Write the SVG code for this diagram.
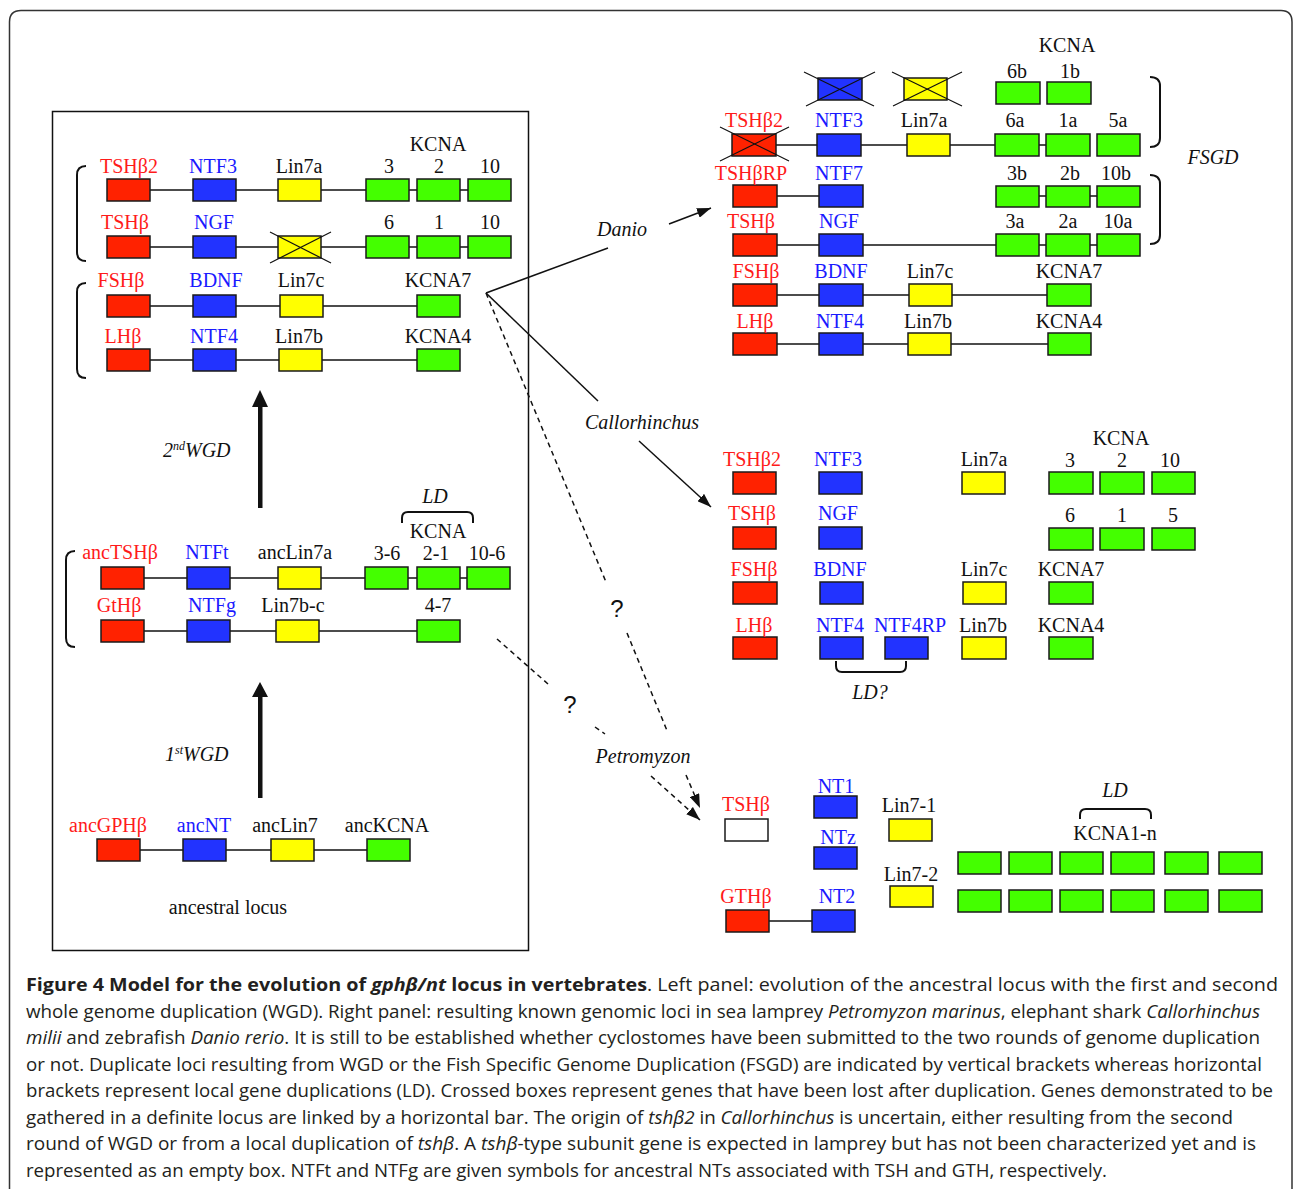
<svg xmlns="http://www.w3.org/2000/svg" width="1293" height="1189" viewBox="0 0 1293 1189">
<style>
.r{fill:#ff2200;stroke:#1a1a1a;stroke-width:1.5}
.b{fill:#2233ff;stroke:#1a1a1a;stroke-width:1.5}
.y{fill:#ffff00;stroke:#1a1a1a;stroke-width:1.5}
.g{fill:#44ff00;stroke:#1a1a1a;stroke-width:1.5}
.e{fill:#ffffff;stroke:#1a1a1a;stroke-width:1.5}
.t{font-family:"Liberation Serif","Times New Roman",serif;font-size:20px;text-anchor:middle;fill:#111}
.tr{fill:#ff1a1a}
.tb{fill:#1a1aff}
.it{font-style:italic}
.ln{stroke:#111;stroke-width:1.5;fill:none}
.x{stroke:#111;stroke-width:1.2;fill:none}
.br{stroke:#111;stroke-width:2;fill:none}
.cn{stroke:#111;stroke-width:1.5;fill:none}
.dash{stroke-dasharray:5,4}
.q{font-family:"Liberation Sans",Arial,sans-serif;font-size:24px;text-anchor:middle;fill:#111}
.cap{font-family:"Open Sans","Noto Sans",sans-serif;font-size:18px;fill:#231f20}
</style>
<defs>
<marker id="ah" markerUnits="userSpaceOnUse" markerWidth="14" markerHeight="10" refX="14" refY="5" orient="auto">
<path d="M0,0 L14,5 L0,10 z" fill="#111"/>
</marker>
</defs>
<rect width="1293" height="1189" fill="#fff"/>
<path d="M9.5,1189 L9.5,22 Q9.5,10.5 21,10.5 L1281,10.5 Q1292,10.5 1292,22 L1292,1189" fill="none" stroke="#333" stroke-width="1.5"/>
<rect x="52.5" y="111.5" width="476" height="839" fill="none" stroke="#111" stroke-width="1.5"/>

<!-- backbone lines (horizontal bars) -->
<g id="bars">
<line class="ln" x1="128" y1="190" x2="490" y2="190"/>
<line class="ln" x1="128" y1="247" x2="490" y2="247"/>
<line class="ln" x1="128" y1="306" x2="438" y2="306"/>
<line class="ln" x1="128" y1="360" x2="438" y2="360"/>
<line class="ln" x1="122" y1="578" x2="488" y2="578"/>
<line class="ln" x1="122" y1="631" x2="438" y2="631"/>
<line class="ln" x1="118" y1="850" x2="388" y2="850"/>
<line class="ln" x1="754" y1="145" x2="1068" y2="145"/>
<line class="ln" x1="754" y1="196" x2="840" y2="196"/>
<line class="ln" x1="1017" y1="196" x2="1118" y2="196"/>
<line class="ln" x1="754" y1="245" x2="1118" y2="245"/>
<line class="ln" x1="754" y1="295" x2="1068" y2="295"/>
<line class="ln" x1="754" y1="344" x2="1069" y2="344"/>
<line class="ln" x1="747" y1="921" x2="833" y2="921"/>
</g>

<!-- LEFT PANEL -->
<g id="left-2ndwgd-loci">
<text class="t" x="438" y="151">KCNA</text>
<g id="L1-tshb2"><rect class="r" x="107" y="179" width="43" height="22"/><text class="t tr" x="129" y="173">TSHβ2</text></g>
<g id="L1-ntf3"><rect class="b" x="193" y="179" width="43" height="22"/><text class="t tb" x="213" y="173">NTF3</text></g>
<g id="L1-lin7a"><rect class="y" x="278" y="179" width="43" height="22"/><text class="t" x="299" y="173">Lin7a</text></g>
<g id="L1-k3"><rect class="g" x="366" y="179" width="43" height="22"/><text class="t" x="389" y="173">3</text></g>
<g id="L1-k2"><rect class="g" x="417" y="179" width="43" height="22"/><text class="t" x="439" y="173">2</text></g>
<g id="L1-k10"><rect class="g" x="468" y="179" width="43" height="22"/><text class="t" x="490" y="173">10</text></g>

<g id="L2-tshb"><rect class="r" x="107" y="236" width="43" height="22"/><text class="t tr" x="125" y="229">TSHβ</text></g>
<g id="L2-ngf"><rect class="b" x="193" y="236" width="43" height="22"/><text class="t tb" x="214" y="229">NGF</text></g>
<g id="L2-lost"><rect class="y" x="278" y="236" width="43" height="22"/><line class="x" x1="270" y1="232" x2="331" y2="263"/><line class="x" x1="331" y1="232" x2="270" y2="263"/></g>
<g id="L2-k6"><rect class="g" x="366" y="236" width="43" height="22"/><text class="t" x="389" y="229">6</text></g>
<g id="L2-k1"><rect class="g" x="417" y="236" width="43" height="22"/><text class="t" x="439" y="229">1</text></g>
<g id="L2-k10"><rect class="g" x="468" y="236" width="43" height="22"/><text class="t" x="490" y="229">10</text></g>

<g id="L3-fshb"><rect class="r" x="107" y="295" width="43" height="22"/><text class="t tr" x="121" y="287">FSHβ</text></g>
<g id="L3-bdnf"><rect class="b" x="193" y="295" width="43" height="22"/><text class="t tb" x="216" y="287">BDNF</text></g>
<g id="L3-lin7c"><rect class="y" x="280" y="295" width="43" height="22"/><text class="t" x="301" y="287">Lin7c</text></g>
<g id="L3-kcna7"><rect class="g" x="417" y="295" width="43" height="22"/><text class="t" x="438" y="287">KCNA7</text></g>

<g id="L4-lhb"><rect class="r" x="107" y="349" width="43" height="22"/><text class="t tr" x="123" y="343">LHβ</text></g>
<g id="L4-ntf4"><rect class="b" x="193" y="349" width="43" height="22"/><text class="t tb" x="214" y="343">NTF4</text></g>
<g id="L4-lin7b"><rect class="y" x="279" y="349" width="43" height="22"/><text class="t" x="299" y="343">Lin7b</text></g>
<g id="L4-kcna4"><rect class="g" x="417" y="349" width="43" height="22"/><text class="t" x="438" y="343">KCNA4</text></g>

<path class="br" d="M86,166 Q77,166 77,175 L77,252 Q77,261 86,261"/>
<path class="br" d="M86,283 Q77,283 77,292 L77,369 Q77,378 86,378"/>
</g>

<g id="left-1stwgd-loci">
<text class="t it" x="435" y="503">LD</text>
<path class="br" d="M402,523 L402,518 Q402,512 408,512 L467,512 Q473,512 473,518 L473,523"/>
<text class="t" x="438" y="538">KCNA</text>
<g id="A-anctshb"><rect class="r" x="101" y="567" width="43" height="22"/><text class="t tr" x="120" y="559">ancTSHβ</text></g>
<g id="A-ntft"><rect class="b" x="187" y="567" width="43" height="22"/><text class="t tb" x="207" y="559">NTFt</text></g>
<g id="A-anclin7a"><rect class="y" x="278" y="567" width="43" height="22"/><text class="t" x="295" y="559">ancLin7a</text></g>
<g id="A-k36"><rect class="g" x="365" y="567" width="43" height="22"/><text class="t" x="387" y="560">3-6</text></g>
<g id="A-k21"><rect class="g" x="417" y="567" width="43" height="22"/><text class="t" x="436" y="560">2-1</text></g>
<g id="A-k106"><rect class="g" x="467" y="567" width="43" height="22"/><text class="t" x="487" y="560">10-6</text></g>
<g id="B-gthb"><rect class="r" x="101" y="620" width="43" height="22"/><text class="t tr" x="119" y="612">GtHβ</text></g>
<g id="B-ntfg"><rect class="b" x="187" y="620" width="43" height="22"/><text class="t tb" x="212" y="612">NTFg</text></g>
<g id="B-lin7bc"><rect class="y" x="276" y="620" width="43" height="22"/><text class="t" x="293" y="612">Lin7b-c</text></g>
<g id="B-k47"><rect class="g" x="417" y="620" width="43" height="22"/><text class="t" x="438" y="612">4-7</text></g>
<path class="br" d="M75,551 Q66,551 66,560 L66,638 Q66,647 75,647"/>
</g>

<g id="ancestral-locus">
<g id="anc-gphb"><rect class="r" x="97" y="839" width="43" height="22"/><text class="t tr" x="108" y="832">ancGPHβ</text></g>
<g id="anc-nt"><rect class="b" x="183" y="839" width="43" height="22"/><text class="t tb" x="204" y="832">ancNT</text></g>
<g id="anc-lin7"><rect class="y" x="271" y="839" width="43" height="22"/><text class="t" x="285" y="832">ancLin7</text></g>
<g id="anc-kcna"><rect class="g" x="367" y="839" width="43" height="22"/><text class="t" x="387" y="832">ancKCNA</text></g>
<text class="t" x="228" y="914">ancestral locus</text>
</g>

<g id="wgd-arrows">
<rect x="258" y="405" width="4.5" height="103" fill="#111"/>
<polygon points="252,407 260,390 268,407" fill="#111"/>
<text class="t it" x="163" y="457" style="text-anchor:start">2<tspan font-size="12" baseline-shift="super">nd</tspan>WGD</text>
<rect x="258" y="695" width="4.5" height="103" fill="#111"/>
<polygon points="252,697 260,682 268,697" fill="#111"/>
<text class="t it" x="165" y="761" style="text-anchor:start">1<tspan font-size="12" baseline-shift="super">st</tspan>WGD</text>
</g>

<!-- DANIO -->
<g id="danio">
<text class="t" x="1067" y="52">KCNA</text>
<g id="D0-ntf-lost"><rect class="b" x="818" y="78" width="44" height="22"/><line class="x" x1="804" y1="72" x2="874" y2="106"/><line class="x" x1="875" y1="72" x2="806" y2="106"/></g>
<g id="D0-lin7-lost"><rect class="y" x="904" y="78" width="43" height="22"/><line class="x" x1="892" y1="72" x2="962" y2="106"/><line class="x" x1="962" y1="72" x2="893" y2="106"/></g>
<g id="D0-k6b"><rect class="g" x="996" y="82" width="44" height="22"/><text class="t" x="1017" y="78">6b</text></g>
<g id="D0-k1b"><rect class="g" x="1047" y="82" width="44" height="22"/><text class="t" x="1070" y="78">1b</text></g>

<g id="D1-tshb2"><rect class="r" x="732" y="134" width="44" height="22"/><line class="x" x1="720" y1="127" x2="789" y2="161"/><line class="x" x1="789" y1="127" x2="720" y2="161"/><text class="t tr" x="754" y="127">TSHβ2</text></g>
<g id="D1-ntf3"><rect class="b" x="817" y="134" width="44" height="22"/><text class="t tb" x="839" y="127">NTF3</text></g>
<g id="D1-lin7a"><rect class="y" x="907" y="134" width="43" height="22"/><text class="t" x="924" y="127">Lin7a</text></g>
<g id="D1-k6a"><rect class="g" x="995" y="134" width="44" height="22"/><text class="t" x="1015" y="127">6a</text></g>
<g id="D1-k1a"><rect class="g" x="1046" y="134" width="44" height="22"/><text class="t" x="1068" y="127">1a</text></g>
<g id="D1-k5a"><rect class="g" x="1097" y="134" width="43" height="22"/><text class="t" x="1118" y="127">5a</text></g>

<g id="D2-tshbrp"><rect class="r" x="733" y="185" width="44" height="22"/><text class="t tr" x="751" y="180">TSHβRP</text></g>
<g id="D2-ntf7"><rect class="b" x="819" y="185" width="44" height="22"/><text class="t tb" x="839" y="180">NTF7</text></g>
<g id="D2-k3b"><rect class="g" x="996" y="186" width="43" height="21"/><text class="t" x="1017" y="180">3b</text></g>
<g id="D2-k2b"><rect class="g" x="1046" y="186" width="44" height="21"/><text class="t" x="1070" y="180">2b</text></g>
<g id="D2-k10b"><rect class="g" x="1097" y="186" width="43" height="21"/><text class="t" x="1116" y="180">10b</text></g>

<g id="D3-tshb"><rect class="r" x="733" y="234" width="44" height="22"/><text class="t tr" x="751" y="228">TSHβ</text></g>
<g id="D3-ngf"><rect class="b" x="819" y="234" width="44" height="22"/><text class="t tb" x="839" y="228">NGF</text></g>
<g id="D3-k3a"><rect class="g" x="996" y="234" width="43" height="22"/><text class="t" x="1015" y="228">3a</text></g>
<g id="D3-k2a"><rect class="g" x="1046" y="234" width="44" height="22"/><text class="t" x="1068" y="228">2a</text></g>
<g id="D3-k10a"><rect class="g" x="1097" y="234" width="43" height="22"/><text class="t" x="1118" y="228">10a</text></g>

<g id="D4-fshb"><rect class="r" x="733" y="284" width="44" height="22"/><text class="t tr" x="756" y="278">FSHβ</text></g>
<g id="D4-bdnf"><rect class="b" x="819" y="284" width="44" height="22"/><text class="t tb" x="841" y="278">BDNF</text></g>
<g id="D4-lin7c"><rect class="y" x="909" y="284" width="43" height="22"/><text class="t" x="930" y="278">Lin7c</text></g>
<g id="D4-kcna7"><rect class="g" x="1047" y="284" width="44" height="22"/><text class="t" x="1069" y="278">KCNA7</text></g>

<g id="D5-lhb"><rect class="r" x="733" y="333" width="44" height="22"/><text class="t tr" x="755" y="328">LHβ</text></g>
<g id="D5-ntf4"><rect class="b" x="819" y="333" width="44" height="22"/><text class="t tb" x="840" y="328">NTF4</text></g>
<g id="D5-lin7b"><rect class="y" x="908" y="333" width="43" height="22"/><text class="t" x="928" y="328">Lin7b</text></g>
<g id="D5-kcna4"><rect class="g" x="1048" y="333" width="43" height="22"/><text class="t" x="1069" y="328">KCNA4</text></g>

<path class="br" d="M1150,77 Q1160,77 1160,86 L1160,138 Q1160,147 1150,147"/>
<path class="br" d="M1150,175 Q1160,175 1160,184 L1160,235 Q1160,244 1150,244"/>
<text class="t it" x="1213" y="164">FSGD</text>
</g>

<!-- CALLORHINCHUS -->
<g id="callorhinchus">
<text class="t" x="1121" y="445">KCNA</text>
<g id="C1-tshb2"><rect class="r" x="733" y="472" width="43" height="22"/><text class="t tr" x="752" y="466">TSHβ2</text></g>
<g id="C1-ntf3"><rect class="b" x="819" y="472" width="43" height="22"/><text class="t tb" x="838" y="466">NTF3</text></g>
<g id="C1-lin7a"><rect class="y" x="962" y="472" width="43" height="22"/><text class="t" x="984" y="466">Lin7a</text></g>
<g id="C1-k3"><rect class="g" x="1049" y="472" width="44" height="22"/><text class="t" x="1070" y="467">3</text></g>
<g id="C1-k2"><rect class="g" x="1100" y="472" width="44" height="22"/><text class="t" x="1122" y="467">2</text></g>
<g id="C1-k10"><rect class="g" x="1152" y="472" width="43" height="22"/><text class="t" x="1170" y="467">10</text></g>

<g id="C2-tshb"><rect class="r" x="733" y="527" width="43" height="22"/><text class="t tr" x="752" y="520">TSHβ</text></g>
<g id="C2-ngf"><rect class="b" x="819" y="527" width="43" height="22"/><text class="t tb" x="838" y="520">NGF</text></g>
<g id="C2-k6"><rect class="g" x="1049" y="528" width="44" height="22"/><text class="t" x="1070" y="522">6</text></g>
<g id="C2-k1"><rect class="g" x="1100" y="528" width="44" height="22"/><text class="t" x="1122" y="522">1</text></g>
<g id="C2-k5"><rect class="g" x="1152" y="528" width="43" height="22"/><text class="t" x="1173" y="522">5</text></g>

<g id="C3-fshb"><rect class="r" x="733" y="582" width="44" height="22"/><text class="t tr" x="754" y="576">FSHβ</text></g>
<g id="C3-bdnf"><rect class="b" x="820" y="582" width="43" height="22"/><text class="t tb" x="840" y="576">BDNF</text></g>
<g id="C3-lin7c"><rect class="y" x="963" y="582" width="43" height="22"/><text class="t" x="984" y="576">Lin7c</text></g>
<g id="C3-kcna7"><rect class="g" x="1049" y="582" width="44" height="22"/><text class="t" x="1071" y="576">KCNA7</text></g>

<g id="C4-lhb"><rect class="r" x="733" y="637" width="44" height="22"/><text class="t tr" x="754" y="632">LHβ</text></g>
<g id="C4-ntf4"><rect class="b" x="820" y="637" width="43" height="22"/><text class="t tb" x="840" y="632">NTF4</text></g>
<g id="C4-ntf4rp"><rect class="b" x="885" y="637" width="43" height="22"/><text class="t tb" x="910" y="632">NTF4RP</text></g>
<g id="C4-lin7b"><rect class="y" x="962" y="637" width="44" height="22"/><text class="t" x="983" y="632">Lin7b</text></g>
<g id="C4-kcna4"><rect class="g" x="1049" y="637" width="44" height="22"/><text class="t" x="1071" y="632">KCNA4</text></g>
<path class="br" d="M836,661 L836,666 Q836,672 842,672 L900,672 Q906,672 906,666 L906,661"/>
<text class="t it" x="870" y="699">LD?</text>
</g>

<!-- PETROMYZON -->
<g id="petromyzon">
<g id="P-tshb"><rect class="e" x="725" y="819" width="43" height="22"/><text class="t tr" x="746" y="811">TSHβ</text></g>
<g id="P-nt1"><rect class="b" x="814" y="796" width="43" height="22"/><text class="t tb" x="836" y="793">NT1</text></g>
<g id="P-ntz"><rect class="b" x="814" y="847" width="43" height="22"/><text class="t tb" x="838" y="844">NTz</text></g>
<g id="P-lin71"><rect class="y" x="889" y="819" width="43" height="22"/><text class="t" x="909" y="812">Lin7-1</text></g>
<g id="P-lin72"><rect class="y" x="890" y="886" width="43" height="21"/><text class="t" x="911" y="881">Lin7-2</text></g>
<g id="P-gthb"><rect class="r" x="726" y="910" width="43" height="22"/><text class="t tr" x="746" y="903">GTHβ</text></g>
<g id="P-nt2"><rect class="b" x="812" y="910" width="43" height="22"/><text class="t tb" x="837" y="903">NT2</text></g>
<text class="t it" x="1115" y="797">LD</text>
<path class="br" d="M1080,819 L1080,815 Q1080,809 1086,809 L1145,809 Q1151,809 1151,815 L1151,819"/>
<text class="t" x="1115" y="840">KCNA1-n</text>
<g id="P-kcna">
<rect class="g" x="958" y="852" width="43" height="22"/><rect class="g" x="1009" y="852" width="43" height="22"/><rect class="g" x="1060" y="852" width="43" height="22"/><rect class="g" x="1111" y="852" width="43" height="22"/><rect class="g" x="1165" y="852" width="43" height="22"/><rect class="g" x="1219" y="852" width="43" height="22"/>
<rect class="g" x="958" y="890" width="43" height="22"/><rect class="g" x="1009" y="890" width="43" height="22"/><rect class="g" x="1060" y="890" width="43" height="22"/><rect class="g" x="1111" y="890" width="43" height="22"/><rect class="g" x="1165" y="890" width="43" height="22"/><rect class="g" x="1219" y="890" width="43" height="22"/>
</g>
</g>

<!-- CONNECTORS -->
<g id="connectors">
<line class="cn" x1="486" y1="293" x2="608" y2="248"/>
<line class="cn" x1="669" y1="224" x2="711" y2="208" marker-end="url(#ah)"/>
<text class="t it" x="622" y="236">Danio</text>
<line class="cn" x1="486" y1="293" x2="598" y2="401"/>
<line class="cn" x1="639" y1="441" x2="711" y2="507" marker-end="url(#ah)"/>
<text class="t it" x="642" y="429">Callorhinchus</text>
<line class="cn dash" x1="486" y1="293" x2="606" y2="582"/>
<text class="q" x="617" y="617">?</text>
<line class="cn dash" x1="627" y1="633" x2="668" y2="733"/>
<line class="cn dash" x1="686" y1="775" x2="700" y2="808" marker-end="url(#ah)"/>
<line class="cn dash" x1="497" y1="639" x2="548" y2="684"/>
<text class="q" x="570" y="713">?</text>
<line class="cn dash" x1="595" y1="727" x2="605" y2="734"/>
<line class="cn dash" x1="651" y1="776" x2="700" y2="820" marker-end="url(#ah)"/>
<text class="t it" x="643" y="763">Petromyzon</text>
</g>

<!-- CAPTION -->
<g id="caption">
<text class="cap" x="26" y="991" textLength="1252" lengthAdjust="spacingAndGlyphs"><tspan font-weight="bold">Figure 4 Model for the evolution of </tspan><tspan font-weight="bold" font-style="italic">gphβ/nt</tspan><tspan font-weight="bold"> locus in vertebrates</tspan>. Left panel: evolution of the ancestral locus with the first and second</text>
<text class="cap" x="26" y="1018" textLength="1234" lengthAdjust="spacingAndGlyphs">whole genome duplication (WGD). Right panel: resulting known genomic loci in sea lamprey <tspan font-style="italic">Petromyzon marinus</tspan>, elephant shark <tspan font-style="italic">Callorhinchus</tspan></text>
<text class="cap" x="26" y="1044" textLength="1234" lengthAdjust="spacingAndGlyphs"><tspan font-style="italic">milii</tspan> and zebrafish <tspan font-style="italic">Danio rerio</tspan>. It is still to be established whether cyclostomes have been submitted to the two rounds of genome duplication</text>
<text class="cap" x="26" y="1071" textLength="1236" lengthAdjust="spacingAndGlyphs">or not. Duplicate loci resulting from WGD or the Fish Specific Genome Duplication (FSGD) are indicated by vertical brackets whereas horizontal</text>
<text class="cap" x="26" y="1097" textLength="1247" lengthAdjust="spacingAndGlyphs">brackets represent local gene duplications (LD). Crossed boxes represent genes that have been lost after duplication. Genes demonstrated to be</text>
<text class="cap" x="26" y="1124" textLength="1207" lengthAdjust="spacingAndGlyphs">gathered in a definite locus are linked by a horizontal bar. The origin of <tspan font-style="italic">tshβ2</tspan> in <tspan font-style="italic">Callorhinchus</tspan> is uncertain, either resulting from the second</text>
<text class="cap" x="26" y="1150" textLength="1230" lengthAdjust="spacingAndGlyphs">round of WGD or from a local duplication of <tspan font-style="italic">tshβ</tspan>. A <tspan font-style="italic">tshβ</tspan>-type subunit gene is expected in lamprey but has not been characterized yet and is</text>
<text class="cap" x="26" y="1177" textLength="1081" lengthAdjust="spacingAndGlyphs">represented as an empty box. NTFt and NTFg are given symbols for ancestral NTs associated with TSH and GTH, respectively.</text>
</g>
</svg>
